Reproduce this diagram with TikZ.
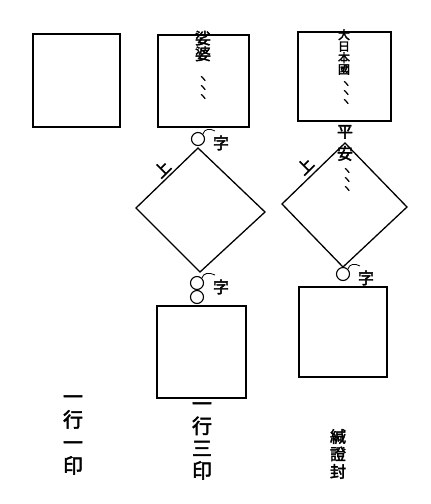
\documentclass[tikz,border=0pt]{standalone}
\usepackage{fontspec}
\newfontfamily\cjk[FakeBold=2.5]{Noto Sans CJK JP}
\begin{document}
\begin{tikzpicture}[x=1pt,y=-1pt,
  box/.style={draw,line width=1.8pt},
  dia/.style={draw,line width=1.3pt},
  ring/.style={draw,line width=1.1pt,circle,minimum size=13pt,inner sep=0pt},
  ch/.style={font=\cjk\fontsize{16}{16}\selectfont,inner sep=0pt},
  vt/.style={align=center,inner sep=0pt},
  mk/.style={font=\cjk\fontsize{10}{9}\selectfont,align=center,inner sep=0pt}]
\useasboundingbox (0,0) rectangle (431,504);
% boxes
\draw[box] (33,34) rectangle (120,127);
\draw[box] (158,35) rectangle (249,127);
\draw[box] (298,32) rectangle (391,121);
\draw[box] (157,306) rectangle (246,398);
\draw[box] (299,287) rectangle (387,377);
% middle diamond
\coordinate (mt) at (198,148);
\coordinate (ml) at (136,208);
\coordinate (mr) at (265,212);
\coordinate (mb) at (200,272);
\draw[dia] (mt) -- (mr) -- (mb) -- (ml) -- cycle;
% right diamond
\coordinate (rt) at (345,143);
\coordinate (rl) at (282,204);
\coordinate (rr) at (407,207);
\coordinate (rb) at (343,267);
\draw[dia] (rt) -- (rr) -- (rb) -- (rl) -- cycle;
% rings
\node[ring] (c1) at (198,139) {};
\node[ring] (c2) at (197,283) {};
\node[ring] (c3) at (197,297) {};
\node[ring] (c4) at (343,274) {};
% 字 labels
\node[ch] (z1) at (221,143) {字};
\node[ch] (z2) at (221,287) {字};
\node[ch] (z3) at (366,278) {字};
\draw[line width=0.8pt] (c1.north east) .. controls (204,129) and (210,128) .. (215,131);
\draw[line width=0.8pt] (c2.north east) .. controls (203,273) and (209,272) .. (215,275);
\draw[line width=0.8pt] (c4.north east) .. controls (349,264) and (355,263) .. (360,266);
% 上
\node[ch,rotate=45] (u1) at (162,169) {上};
\node[ch,rotate=45] (u2) at (305,166) {上};
% texts in boxes
\node[vt,font=\cjk\fontsize{16}{14}\selectfont] (t1) at (203,46) {娑\\婆};
\node[mk] (m1) at (203,88) {ヽ\\ヽ\\ヽ};
\node[vt,font=\cjk\fontsize{12}{11.5}\selectfont] (t2) at (344,52) {大\\日\\本\\國};
\node[mk] (m2) at (346,93) {ヽ\\ヽ\\ヽ};
\node[vt,font=\cjk\fontsize{16}{22}\selectfont] (p) at (345,143) {平\\安};
\node[mk] (m3) at (347,180) {ヽ\\ヽ\\ヽ};
% bottom labels
\node[vt,font=\cjk\fontsize{20}{23}\selectfont] (l1) at (73,435) {一\\行\\一\\印};
\node[vt,font=\cjk\fontsize{20}{22.3}\selectfont] (l2) at (202,441) {一\\行\\三\\印};
\node[vt,font=\cjk\fontsize{16}{17.5}\selectfont] (l3) at (338,454) {緘\\證\\封};
\end{tikzpicture}
\end{document}
